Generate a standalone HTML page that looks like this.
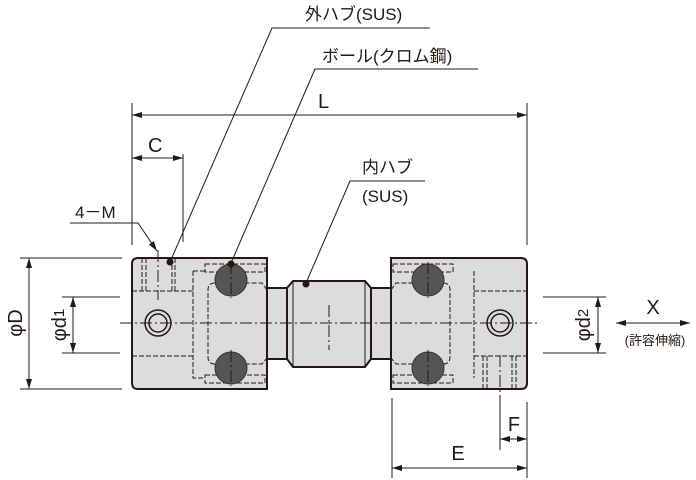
<!DOCTYPE html>
<html><head><meta charset="utf-8"><style>
html,body{margin:0;padding:0;background:#fff;}
svg{display:block;}
text{font-family:"Liberation Sans","Noto Sans CJK JP",sans-serif;fill:#231815;}
</style></head><body>
<svg width="696" height="480" viewBox="0 0 696 480" xmlns="http://www.w3.org/2000/svg">
<defs>
<marker id="a" markerWidth="10" markerHeight="6" refX="10" refY="3" orient="auto-start-reverse" markerUnits="userSpaceOnUse"><path d="M0,0 L10,3 L0,6 z" fill="#231815"/></marker>
</defs>
<g stroke="#231815" fill="none" stroke-width="1">
<path d="M138,258 H267 V389 H138 Q132,389 132,383 V264 Q132,258 138,258 Z" fill="#dcdcdc" stroke-width="2"/>
<path d="M391,258 H521 Q527,258 527,264 V383 Q527,389 521,389 H391 Z" fill="#dcdcdc" stroke-width="2"/>
<rect x="267" y="288" width="20" height="71" fill="#dcdcdc" stroke-width="2"/>
<rect x="371" y="288" width="20" height="71" fill="#dcdcdc" stroke-width="2"/>
<path d="M293,281 H365 L371,288 V359 L365,367 H293 L287,359 V288 Z" fill="#dcdcdc" stroke-width="2"/>
<line x1="293" y1="281" x2="293" y2="367"/><line x1="365" y1="281" x2="365" y2="367"/>
<g stroke-dasharray="5,2">
<line x1="142" y1="258" x2="142" y2="291"/><line x1="146" y1="258" x2="146" y2="291"/>
<line x1="172" y1="258" x2="172" y2="291"/><line x1="175" y1="258" x2="175" y2="291"/>
<line x1="132" y1="291" x2="193" y2="291"/><line x1="132" y1="356" x2="193" y2="356"/>
<path d="M193,271 V378 H205"/><path d="M193,271 H205"/>
<rect x="205" y="264" width="60" height="8"/><rect x="205" y="375" width="60" height="8"/>
<path d="M267,290 L262,283 H215 Q208,283 208,290 V357 Q208,364 215,364 H262 L267,358"/>
<line x1="474" y1="271" x2="474" y2="378"/>
<rect x="393" y="264" width="60" height="8"/><rect x="393" y="375" width="60" height="8"/>
<path d="M391,290 L396,283 H443 Q450,283 450,290 V357 Q450,364 443,364 H396 L391,358"/>
<line x1="474" y1="291" x2="527" y2="291"/><line x1="474" y1="356" x2="527" y2="356"/>
<line x1="483" y1="356" x2="483" y2="389"/><line x1="487" y1="356" x2="487" y2="389"/>
<line x1="512" y1="356" x2="512" y2="389"/><line x1="516" y1="356" x2="516" y2="389"/>
</g>
<g fill="#555" stroke="#333">
<circle cx="231" cy="280" r="16"/><circle cx="231" cy="368" r="16"/>
<circle cx="428" cy="280" r="16"/><circle cx="428" cy="368" r="16"/>
</g>
<circle cx="158" cy="323" r="13" stroke-width="1.5"/><circle cx="158" cy="323" r="9" stroke-width="1.5"/>
<circle cx="500" cy="323" r="13" stroke-width="1.5"/><circle cx="500" cy="323" r="9" stroke-width="1.5"/>
<g stroke-dasharray="12,3,2,3">
<line x1="120" y1="323" x2="540" y2="323"/>
<line x1="231" y1="262" x2="231" y2="298"/><line x1="231" y1="350" x2="231" y2="386"/>
<line x1="428" y1="262" x2="428" y2="298"/><line x1="428" y1="350" x2="428" y2="386"/>
<line x1="329" y1="305" x2="329" y2="350"/>
<line x1="158" y1="250" x2="158" y2="300"/>
<line x1="500" y1="355" x2="500" y2="400"/>
</g>
<line x1="132" y1="103" x2="132" y2="245"/><line x1="527" y1="103" x2="527" y2="245"/>
<line x1="132" y1="115" x2="527" y2="115" marker-start="url(#a)" marker-end="url(#a)"/>
<line x1="183" y1="154" x2="183" y2="242"/>
<line x1="132" y1="158" x2="183" y2="158" marker-start="url(#a)" marker-end="url(#a)"/>
<line x1="20" y1="258" x2="122" y2="258"/><line x1="20" y1="389" x2="122" y2="389"/>
<line x1="29" y1="258" x2="29" y2="389" marker-start="url(#a)" marker-end="url(#a)"/>
<line x1="62" y1="297" x2="120" y2="297"/><line x1="62" y1="353" x2="120" y2="353"/>
<line x1="73" y1="297" x2="73" y2="353" marker-start="url(#a)" marker-end="url(#a)"/>
<line x1="543" y1="297" x2="606" y2="297"/><line x1="543" y1="353" x2="606" y2="353"/>
<line x1="598" y1="297" x2="598" y2="353" marker-start="url(#a)" marker-end="url(#a)"/>
<line x1="616" y1="323" x2="690" y2="323" marker-start="url(#a)" marker-end="url(#a)"/>
<line x1="392" y1="398" x2="392" y2="478"/><line x1="527" y1="402" x2="527" y2="478"/>
<line x1="392" y1="468" x2="527" y2="468" marker-start="url(#a)" marker-end="url(#a)"/>
<line x1="500" y1="400" x2="500" y2="450"/>
<line x1="500" y1="439" x2="527" y2="439" marker-start="url(#a)" marker-end="url(#a)"/>
<polyline points="430,28 272,28 170,262"/>
<polyline points="478,69 315,69 231,263"/>
<polyline points="425,181 350,181 306,283"/>
<polyline points="70,223 138,223 157,251" marker-end="url(#a)"/>
</g>
<g fill="#231815">
<circle cx="170" cy="262" r="3.5"/><circle cx="231" cy="264" r="3.5"/><circle cx="306" cy="284" r="3.5"/>
</g>
<text x="305" y="20" font-size="17">外ハブ(SUS)</text>
<text x="322" y="62" font-size="17">ボール(クロム鋼)</text>
<text x="318" y="108" font-size="20">L</text>
<text x="148" y="152" font-size="20">C</text>
<text x="75" y="218" font-size="17">4－M</text>
<text x="362" y="173" font-size="17">内ハブ</text>
<text x="362" y="202" font-size="17">(SUS)</text>
<text x="0" y="0" font-size="20" transform="translate(22,323) rotate(-90)" text-anchor="middle">φD</text>
<text x="0" y="0" font-size="20" transform="translate(66,325) rotate(-90)" text-anchor="middle">φd<tspan font-size="15" dy="-2">1</tspan></text>
<text x="0" y="0" font-size="20" transform="translate(590,325) rotate(-90)" text-anchor="middle">φd<tspan font-size="15" dy="-2">2</tspan></text>
<text x="653" y="314" font-size="20" text-anchor="middle">X</text>
<text x="655" y="345" font-size="13" text-anchor="middle">(許容伸縮)</text>
<text x="458" y="460" font-size="20" text-anchor="middle">E</text>
<text x="514" y="431" font-size="20" text-anchor="middle">F</text>
</svg>
</body></html>
